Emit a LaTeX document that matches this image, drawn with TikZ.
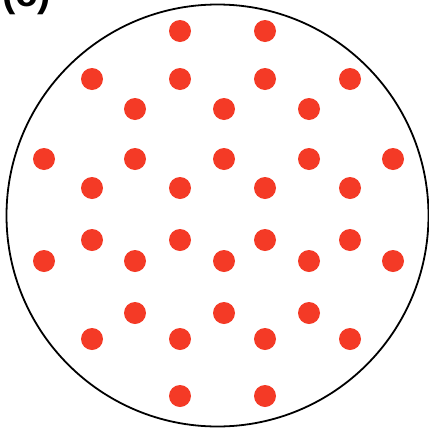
\documentclass[tikz,border=0pt]{standalone}
\usepackage{fontspec}
\setmainfont{Liberation Sans}
\definecolor{dotred}{HTML}{F43A26}
\begin{document}
\begin{tikzpicture}[x=1pt,y=-1pt,
  dot/.style={fill=dotred},
  rim/.style={draw=black,line width=1.8pt}]
\useasboundingbox (0,0) rectangle (429,432);
\fill[white] (0,0) rectangle (429,432);
\draw[rim] (217.5,215.5) circle (211);
\foreach \x/\y in {180/31,265/31,
  92/79,180/79,265/79,350/79,
  135/109,224/109,309/109,
  44/159,135/159,224/159,309/159,393/159,
  92/188,180/188,265/188,350/188,
  92/240,180/240,265/240,350/240,
  44/261,135/261,224/261,309/261,393/261,
  135/313,224/313,309/313,
  92/339,180/339,265/339,350/339,
  180/396,265/396}
  \fill[dot] (\x,\y) circle (11);
\node[anchor=base west,inner sep=0pt,font=\fontsize{40}{40}\selectfont\bfseries] (lab) at (2,6) {(c)};
\end{tikzpicture}
\end{document}
